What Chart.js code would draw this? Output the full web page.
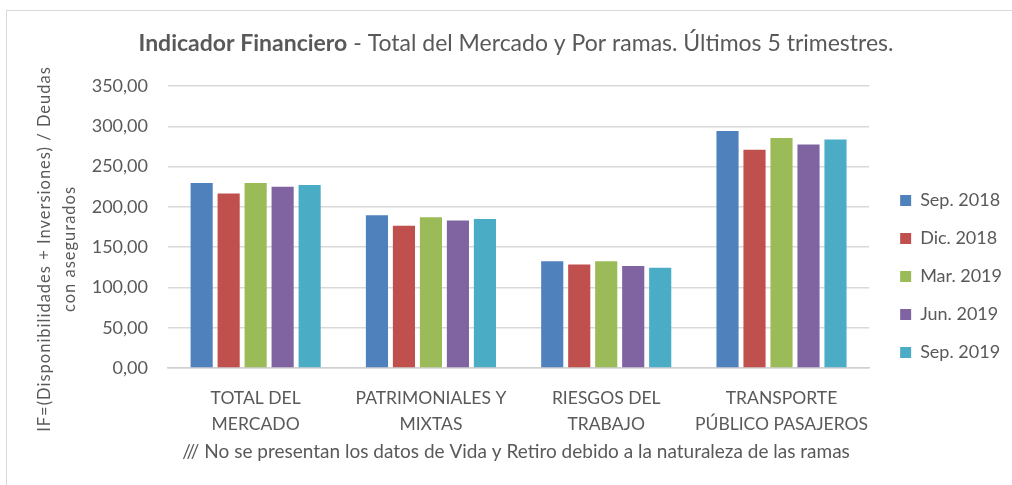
<!DOCTYPE html>
<html>
<head>
<meta charset="utf-8">
<script src="https://cdn.jsdelivr.net/npm/chart.js@4.4.1/dist/chart.umd.min.js"></script>
<style>
  html, body { margin: 0; padding: 0; background: #fff; }
  #grafico { display: block; }
</style>
</head>
<body>
<canvas id="grafico" width="1012" height="485"></canvas>
<script>
// datos
const ramas = [['TOTAL DEL', 'MERCADO'], ['PATRIMONIALES Y', 'MIXTAS'], ['RIESGOS DEL', 'TRABAJO'], ['TRANSPORTE', 'PÚBLICO PASAJEROS']];
const trimestres = ['Sep. 2018', 'Dic. 2018', 'Mar. 2019', 'Jun. 2019', 'Sep. 2019'];
const sep2018 = [229.5, 189.5, 132.5, 294.0];
const dic2018 = [216.5, 176.5, 128.5, 271.0];
const mar2019 = [229.5, 187.0, 132.5, 285.5];
const jun2019 = [225.0, 183.0, 126.5, 277.5];
const sep2019 = [227.0, 185.0, 124.5, 283.5];
const ticksY = [0, 50, 100, 150, 200, 250, 300, 350];

const colores = ['#4F81BD', '#C0504D', '#9BBB59', '#8064A2', '#4BACC6'];
const gris = '#595959';
const fuente = 'Lato, "Liberation Sans", sans-serif';

const series = [sep2018, dic2018, mar2019, jun2019, sep2019];

// titulo, texto del eje y, nota al pie y marco
const textos = {
  id: 'textos',
  afterDraw(chart) {
    const c = chart.ctx;
    c.save();
    c.strokeStyle = '#d9d9d9';
    c.lineWidth = 1;
    c.strokeRect(6.5, 10.5, 1012, 480);

    c.fillStyle = gris;
    c.textBaseline = 'middle';
    const negrita = 'Indicador Financiero';
    const resto = ' - Total del Mercado y Por ramas. Últimos 5 trimestres.';
    c.font = 'bold 23px ' + fuente;
    const w1 = c.measureText(negrita).width;
    c.font = '23px ' + fuente;
    const w2 = c.measureText(resto).width;
    let x = 516 - (w1 + w2) / 2;
    c.textAlign = 'left';
    c.font = 'bold 23px ' + fuente;
    c.fillText(negrita, x, 44);
    c.font = '23px ' + fuente;
    c.fillText(resto, x + w1, 44);

    c.font = '19px ' + fuente;
    c.textAlign = 'center';
    c.fillText('/// No se presentan los datos de Vida y Retiro debido a la naturaleza de las ramas', 516, 452);

    c.translate(0, 249);
    c.rotate(-Math.PI / 2);
    c.letterSpacing = '1px';
    c.font = '16.5px ' + fuente;
    c.fillText('IF=(Disponibilidades + Inversiones) / Deudas', 0, 45);
    c.fillText('con asegurados', 0, 70);
    c.restore();
  }
};

const ctx = document.querySelector('#grafico');

new Chart(ctx, {
  type: 'bar',
  data: {
    labels: ramas,
    datasets: trimestres.map((t, i) => ({
      label: t,
      data: series[i],
      backgroundColor: colores[i],
      borderWidth: 0,
      yAxisID: 'y'
    }))
  },
  options: {
    responsive: false,
    animation: false,
    devicePixelRatio: 1,
    categoryPercentage: 0.77,
    barPercentage: 0.82,
    layout: { padding: { top: 86, left: 0, right: 0, bottom: 18 } },
    plugins: {
      title: { display: false },
      tooltip: { enabled: false },
      legend: {
        position: 'right',
        align: 'center',
        labels: {
          boxWidth: 11,
          boxHeight: 11,
          padding: 20,
          color: gris,
          font: { family: fuente, size: 18 }
        }
      }
    },
    scales: {
      x: {
        grid: { display: false },
        border: { display: true, color: '#d0d0d0', width: 1.5 },
        ticks: {
          color: gris,
          padding: 10,
          maxRotation: 0,
          autoSkip: false,
          font: { family: fuente, size: 17.5, lineHeight: 1.45 }
        },
        afterFit: s => { s.height = 99; }
      },
      y: {
        min: 0,
        max: 350,
        afterBuildTicks: s => { s.ticks = ticksY.map(v => ({ value: v })); },
        grid: { color: '#d9d9d9', lineWidth: 1.5, drawTicks: false },
        border: { display: false },
        ticks: {
          color: gris,
          padding: 20,
          font: { family: fuente, size: 18 },
          callback: v => v.toFixed(2).replace('.', ',')
        },
        afterFit: s => { s.width = 168; }
      },
      hueco: {
        position: 'right',
        display: true,
        grid: { display: false },
        border: { display: false },
        ticks: { display: false },
        afterFit: s => { s.width = 11; }
      }
    }
  },
  plugins: [textos]
});
</script>
</body>
</html>
